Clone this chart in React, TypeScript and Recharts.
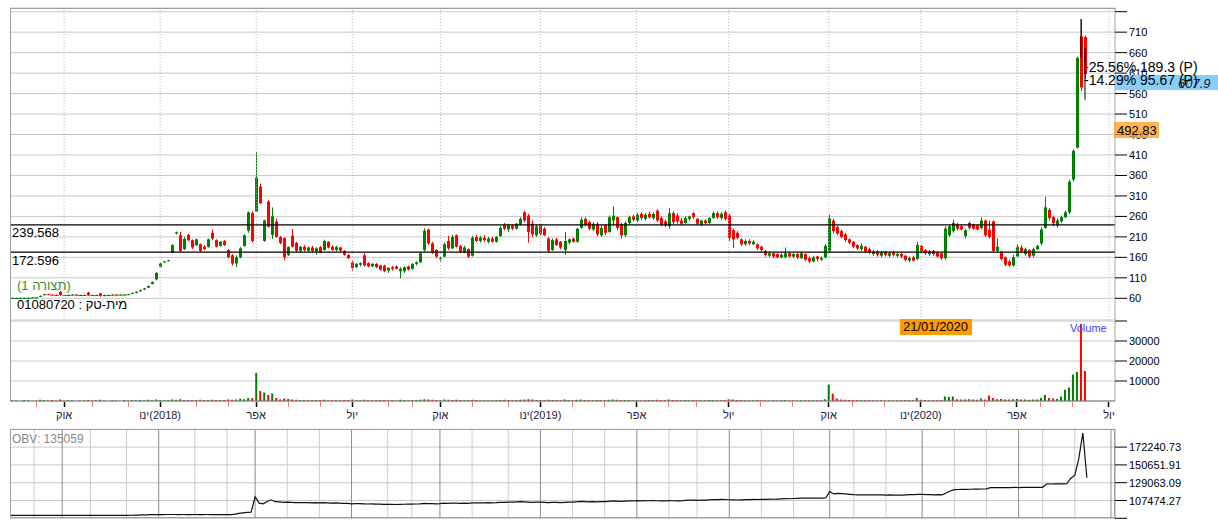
import { ComposedChart, Bar, Line, XAxis, YAxis, CartesianGrid, ReferenceLine, Cell } from 'recharts'

const GREEN = '#008000'
const RED = '#ff0000'
const FONT = "'Liberation Sans', Arial, sans-serif"

// category slots (one every ~4px), data fills the first 269
const SLOTS = 276

const quarterTicks = [13, 37, 61, 85, 107, 132, 156, 179, 204, 227, 251, 274]
const quarterLabels = [
  'אוק', 'ינו\u200E(2018)', 'אפר', 'יול', 'אוק', 'ינו\u200E(2019)',
  'אפר', 'יול', 'אוק', 'ינו\u200E(2020)', 'אפר', 'יול',
]
const monthTicks = [6, 20, 29, 46, 54, 69, 77, 94, 100, 115, 124, 140, 148, 164, 171, 187, 195, 210, 218, 235, 243, 257, 265]

const priceTicks = [60, 110, 160, 210, 260, 310, 360, 410, 460, 510, 560, 610, 660, 710, 760]
const volumeTicks = [10000, 20000, 30000, 40000]
const obvTicks = [85885.45, 107474.27, 129063.09, 150651.91, 172240.73]
const levels = [239.568, 172.596]

// [open, high, low, close]
const ohlc: number[][] = [
  [61,62,60,61],[61,62,60,61],[61,62,60,61],[61,62,60,61],[61,62,60,61],[61,62,60,62],[62,63,61,62],[64,67,63,66],[68,71,67,70],[70,71,68,69],
  [69,70,67,68],[68,69,66,67],[76,78,66,68],[68,69,67,68],[68,69,67,68],[68,70,67,69],[69,70,67,68],[68,69,67,68],[68,69,67,68],[74,76,66,67],
  [67,69,66,68],[68,69,67,68],[72,73,64,66],[66,69,65,68],[68,69,67,68],[68,70,67,69],[69,70,67,68],[68,70,67,69],[69,70,68,69],[69,71,68,70],
  [71,74,70,73],[73,77,72,76],[77,81,76,80],[81,85,80,84],[86,91,85,90],[95,101,94,100],[106,124,104,122],[137,146,136,145],[148,151,147,150],[151,154,150,153],
  [172,192,170,190],[218,223,216,221],[214,222,172,176],[180,210,178,205],[215,217,200,202],[202,204,180,184],[190,206,188,204],[192,194,173,176],[186,190,178,180],[185,206,184,204],
  [220,228,202,206],[202,204,184,186],[188,200,186,198],[200,202,188,190],[178,180,158,160],[165,168,140,145],[145,165,136,160],[160,185,158,182],[188,216,186,214],[225,272,220,270],
  [268,272,196,200],[272,417,270,355],[333,340,290,292],[200,252,198,250],[296,300,233,235],[215,282,205,260],[247,255,208,210],[210,212,192,195],[207,209,153,160],[166,187,163,185],
  [213,229,184,186],[195,198,173,176],[176,188,172,186],[186,190,174,178],[176,186,172,184],[184,188,172,175],[174,185,166,182],[185,188,170,172],[178,203,176,200],[198,200,182,184],
  [186,190,176,178],[178,188,174,185],[184,186,174,176],[176,178,164,166],[166,168,156,158],[148,152,128,134],[136,146,134,144],[142,148,138,146],[165,170,138,140],[146,148,136,138],
  [138,146,136,144],[144,146,134,136],[140,142,128,130],[140,142,124,126],[128,136,122,134],[136,139,128,132],[138,140,130,132],[126,136,109,132],[126,138,122,136],[138,140,128,130],
  [132,146,130,144],[144,150,140,148],[148,172,146,170],[178,231,174,225],[228,230,190,194],[194,198,168,172],[178,180,158,162],[156,162,150,158],[162,196,160,192],[200,212,178,182],
  [182,215,180,210],[214,216,184,186],[188,190,170,174],[172,188,170,184],[180,182,158,162],[164,212,162,208],[210,215,198,200],[200,212,196,208],[208,214,198,202],[198,210,194,206],
  [206,210,196,198],[198,212,196,210],[212,236,210,232],[240,244,226,230],[228,242,222,238],[238,240,226,230],[230,244,228,242],[240,258,238,254],[270,274,246,250],[262,266,196,222],
  [242,250,210,216],[214,240,210,236],[238,242,214,218],[230,234,212,214],[206,210,172,176],[178,206,176,202],[204,208,188,190],[198,200,180,184],[178,222,166,200],[196,206,192,204],
  [206,208,196,198],[198,232,196,230],[232,258,230,252],[254,258,236,240],[246,250,226,230],[228,246,224,242],[242,246,212,216],[214,238,210,232],[238,240,214,220],[222,262,220,258],
  [250,284,238,262],[258,260,226,232],[240,244,206,214],[214,248,210,244],[244,262,240,258],[260,264,248,252],[250,268,246,264],[266,270,252,256],[254,268,250,264],[266,272,254,258],
  [256,270,252,266],[274,278,246,250],[256,260,236,240],[248,252,234,238],[236,280,230,268],[268,272,240,246],[262,268,242,248],[250,256,238,242],[244,260,242,256],[254,262,250,260],
  [268,270,254,258],[254,256,238,242],[240,252,236,250],[250,254,240,244],[244,258,242,256],[256,272,254,268],[268,272,254,258],[256,270,252,266],[270,274,250,254],[262,266,200,208],
  [226,230,183,204],[220,224,204,208],[204,206,188,192],[192,204,188,200],[200,204,190,194],[192,202,190,198],[192,194,178,182],[186,188,174,178],[176,178,162,166],[164,174,160,170],
  [170,172,158,162],[168,170,158,160],[160,170,158,166],[160,184,158,170],[170,172,160,162],[162,170,158,168],[168,170,156,160],[158,174,156,170],[168,170,150,154],[158,162,146,150],
  [150,164,148,160],[162,164,150,156],[154,162,152,158],[160,192,158,188],[176,264,172,255],[250,254,218,224],[234,238,214,218],[224,228,206,210],[216,220,198,202],[204,206,192,196],
  [198,200,182,186],[190,192,178,182],[180,194,176,188],[186,188,170,174],[180,184,168,172],[168,178,164,174],[174,178,162,166],[164,176,160,172],[174,176,162,166],[164,174,160,170],
  [172,176,162,166],[164,172,160,168],[168,172,158,162],[164,166,150,154],[152,162,148,158],[160,164,150,152],[156,198,154,190],[188,190,170,174],[178,180,166,170],[168,178,164,174],
  [176,178,164,168],[172,174,160,162],[170,172,154,158],[158,236,154,230],[214,240,210,236],[224,252,220,244],[240,244,226,230],[236,240,226,228],[212,230,206,226],[244,248,228,232],
  [240,242,228,230],[238,240,226,228],[232,258,228,250],[250,252,210,214],[228,250,206,210],[248,250,172,176],[176,206,172,186],[174,176,152,156],[160,162,138,142],[150,154,136,140],
  [140,166,138,160],[162,192,160,186],[184,190,170,174],[168,184,164,180],[178,180,158,162],[164,184,160,180],[180,190,178,188],[194,234,190,228],[232,308,230,282],[276,280,250,256],
  [258,262,236,244],[238,256,232,250],[248,262,244,258],[258,274,256,270],[270,350,266,345],[350,424,346,420],[428,650,426,647],[700,742,566,575],[698,702,596,608],
]

const volume = [
  400,300,0,500,350,0,250,600,450,300,
  500,300,700,200,400,350,0,300,250,500,
  300,400,600,250,0,350,300,0,450,300,
  400,350,500,300,600,450,800,500,400,350,
  700,600,900,500,450,400,550,600,350,500,
  650,500,400,450,700,600,800,1100,900,1500,
  1500,14000,5000,4300,3000,3700,1500,800,1200,1000,
  700,600,500,450,400,550,500,450,600,400,
  450,400,350,500,450,700,400,350,600,400,
  350,400,450,500,400,350,300,600,450,400,
  500,450,600,900,700,600,500,400,700,600,
  550,600,500,400,450,600,450,400,350,400,
  350,400,550,600,450,400,500,600,800,900,
  700,500,450,400,650,500,450,400,700,500,
  400,600,700,550,450,400,500,450,400,650,
  800,600,500,550,500,400,450,350,400,450,
  400,600,500,450,700,500,450,400,450,400,
  450,400,350,400,450,500,400,350,500,900,
  800,500,450,400,350,400,450,400,350,300,
  350,300,400,450,300,350,300,400,350,400,
  350,400,300,900,8200,3600,1200,800,600,500,
  500,450,400,400,350,400,300,350,300,350,
  300,350,400,450,350,400,1500,600,450,400,
  350,400,450,2300,2000,2300,900,700,800,900,
  700,600,1200,800,2700,1500,900,1000,800,700,
  900,1000,700,800,600,700,800,1500,3000,1500,
  1200,1000,2300,5600,6700,13200,14500,38500,15000,
]

const obv = [
  89460,89420,89420,89480,89450,89450,89470,89500,89520,89490,
  89480,89470,89430,89450,89460,89480,89470,89470,89480,89450,
  89460,89470,89430,89450,89450,89480,89470,89470,89490,89500,
  89600,89700,89850,89950,90100,90250,90350,90420,90450,90480,
  90500,90520,90450,90480,90460,90430,90470,90440,90440,90480,
  90460,90440,90460,90440,90400,90380,91000,91800,92500,93000,
  93200,112000,104300,103500,106300,108300,106000,105700,105300,105500,
  105200,105000,104900,105000,104800,104700,104900,104600,104800,104600,
  104400,104500,104300,104100,103900,103500,103600,103700,103400,103200,
  103300,103100,103000,102800,102900,102700,102600,102800,102900,103000,
  103100,103200,103400,103900,103800,103600,103500,103700,104200,104000,
  104400,104300,104100,104300,104100,104600,104500,104700,104600,104800,
  104700,104900,105300,105200,105500,105400,105700,106000,105800,105500,
  105300,105600,105400,105300,104900,105200,105100,104900,105300,105500,
  105400,105900,106300,106100,105900,106200,105900,106200,106000,106500,
  107000,106700,106400,106800,107100,106900,107300,107100,107400,107200,
  107500,107200,107000,106900,107400,107200,107000,106900,107600,108000,
  107900,107700,108000,107900,108300,108700,108600,108900,108700,108400,
  108200,108100,108300,108600,108500,108800,108700,108900,108800,109100,
  109000,109200,109400,109700,109600,109900,110100,110300,110400,110300,
  110400,110500,110400,110500,118200,115400,116000,115800,115400,115000,
  114500,114400,114300,114400,114300,114200,114300,114200,114100,114200,
  114100,114000,114100,114300,114500,114700,114900,114800,114600,114500,
  114400,114500,114300,116500,119000,120700,120800,120900,121000,121100,
  121200,121300,121400,121500,123100,123000,123100,123200,123100,123200,
  123300,123200,123300,123400,123300,123400,123500,123500,127700,127500,
  127600,127700,127700,127800,134600,137900,158500,189400,135059,
]

const data = Array.from({ length: SLOTS }, (_, i) => {
  const row = ohlc[i]
  if (!row) return { i }
  return { i, o: row[0], h: row[1], l: row[2], c: row[3], vol: volume[i], obv: obv[i] }
})

function Candle(props: any) {
  const { x, y, width, height, payload } = props
  if (!payload || payload.o == null || !Number.isFinite(y)) return <g />
  const { o, h, l, c } = payload
  const top = Math.min(y, y + height)
  const bottom = Math.max(y, y + height)
  const k = h > l ? (bottom - top) / (h - l) : 0
  const cx = Math.floor(x + width / 2) + 0.5
  const color = c >= o ? GREEN : RED
  const bTop = top + (h - Math.max(o, c)) * k
  const bBot = top + (h - Math.min(o, c)) * k
  // quiet, almost flat sessions read as a continuous line in the reference
  const bw = h - l <= 3 ? 4 : 3
  return (
    <g>
      <line x1={cx} x2={cx} y1={top} y2={bottom} stroke={color} strokeWidth={1} />
      <rect x={cx - bw / 2} y={bTop} width={bw} height={Math.max(1, bBot - bTop)} fill={color} />
    </g>
  )
}

function PriceTick(p: any) {
  const v = p.payload.value
  if (v === 760) return <g />
  return (
    <text x={p.x} y={p.y} dy={4} fontSize={11} fill="#000" textAnchor="start">
      {v}
    </text>
  )
}

function VolumeTick(p: any) {
  const v = p.payload.value
  if (v === 40000) return <g />
  return (
    <text x={p.x} y={p.y} dy={4} fontSize={11} fill="#000" textAnchor="start">
      {v}
    </text>
  )
}

function ObvTick(p: any) {
  const v = p.payload.value
  if (v === obvTicks[0]) return <g />
  return (
    <text x={p.x} y={p.y} dy={4} fontSize={11} fill="#000" textAnchor="start">
      {v.toFixed(2)}
    </text>
  )
}

function TimeTick(p: any) {
  const v = p.payload.value
  const qi = quarterTicks.indexOf(v)
  const x = Math.floor(p.x) + 0.5
  const y = Math.round(p.y)
  if (qi < 0) {
    return <line x1={x} x2={x} y1={y + 1} y2={y + 6} stroke="#f08080" strokeWidth={1} />
  }
  return (
    <g>
      <line x1={x} x2={x} y1={y + 1} y2={y + 6} stroke="#000" strokeWidth={1.5} />
      <text x={p.x} y={y + 18} textAnchor="middle" fontSize={11} fill="#1b1b3a">
        {quarterLabels[qi]}
      </text>
    </g>
  )
}

const abs = (left: number, top: number, extra: object = {}) => ({
  position: 'absolute' as const,
  left,
  top,
  ...extra,
})

export default function App() {
  return (
    <div style={{ position: 'absolute', left: 0, top: 0, width: 1218, height: 528, background: '#fff', overflow: 'hidden', fontFamily: FONT }}>
      {/* price panel */}
      <div style={abs(0, 0)}>
        <ComposedChart width={1218} height={321} data={data} margin={{ top: 8, right: 0, bottom: 1, left: 10 }}>
          <CartesianGrid vertical={false} stroke="#c8c8c8" />
          <XAxis dataKey="i" type="category" hide />
          <YAxis
            orientation="right"
            width={103}
            domain={[7, 769]}
            ticks={priceTicks}
            interval={0}
            allowDataOverflow
            tickSize={12}
            tickMargin={2}
            stroke="#a0a0a0"
            tickLine={{ stroke: '#000' }}
            tick={PriceTick}
          />
          {quarterTicks.map((q) => (
            <ReferenceLine key={q} x={q} stroke="#b8b8b8" strokeDasharray="1 2" />
          ))}
          {levels.map((v) => (
            <ReferenceLine key={v} y={v} stroke="#000" strokeWidth={1.3} />
          ))}
          <Bar
            dataKey={(d: any) => (d.o == null ? null : [d.l, d.h])}
            shape={Candle}
            barSize={3}
            isAnimationActive={false}
          />
          <ReferenceLine segment={[{ x: 267, y: 742 }, { x: 267, y: 647 }]} stroke="#000" />
          <ReferenceLine segment={[{ x: 268, y: 671 }, { x: 268, y: 545 }]} stroke="#000" />
        </ComposedChart>
      </div>

      {/* volume panel */}
      <div style={abs(0, 314)}>
        <ComposedChart width={1218} height={115} data={data} margin={{ top: 7, right: 0, bottom: 0, left: 10 }}>
          <CartesianGrid vertical={false} stroke="#c8c8c8" />
          <XAxis
            dataKey="i"
            type="category"
            ticks={[...quarterTicks, ...monthTicks]}
            interval={0}
            height={28}
            tickLine={false}
            tickSize={0}
            tickMargin={0}
            stroke="#777"
            tick={TimeTick}
          />
          <YAxis
            orientation="right"
            width={103}
            domain={[0, 40000]}
            ticks={volumeTicks}
            interval={0}
            allowDataOverflow
            tickSize={12}
            tickMargin={2}
            stroke="#a0a0a0"
            tickLine={{ stroke: '#000' }}
            tick={VolumeTick}
          />
          <Bar dataKey="vol" barSize={2} isAnimationActive={false}>
            {data.map((d: any) => (
              <Cell key={d.i} fill={d.c >= d.o ? GREEN : RED} />
            ))}
          </Bar>
        </ComposedChart>
      </div>

      {/* OBV panel */}
      <div style={abs(0, 420)}>
        <ComposedChart width={1218} height={108} data={data} margin={{ top: 9.3, right: 0, bottom: 9.7, left: 10 }}>
          <CartesianGrid vertical={false} stroke="#c8c8c8" />
          <XAxis dataKey="i" type="category" hide />
          <YAxis
            orientation="right"
            width={103}
            domain={[85885.45, 193829.55]}
            ticks={obvTicks}
            interval={0}
            allowDataOverflow
            tickSize={12}
            tickMargin={2}
            stroke="#a0a0a0"
            tickLine={{ stroke: '#000' }}
            tick={ObvTick}
          />
          {monthTicks.map((m) => (
            <ReferenceLine key={'m' + m} x={m} stroke="#cdcdcd" />
          ))}
          {quarterTicks.map((q) => (
            <ReferenceLine key={'q' + q} x={q} stroke="#8c8c8c" />
          ))}
          <Line dataKey="obv" stroke="#111" strokeWidth={1.2} dot={false} type="linear" isAnimationActive={false} connectNulls={false} />
        </ComposedChart>
      </div>

      {/* panel frames */}
      <div style={abs(10, 8, { width: 1105, height: 312, borderLeft: '1px solid #a0a0a0', borderTop: '1px solid #a0a0a0', pointerEvents: 'none' })} />
      <div style={abs(10, 321, { width: 1105, height: 80, borderLeft: '1px solid #a0a0a0', pointerEvents: 'none' })} />
      <div style={abs(10, 429, { width: 1105, height: 89, border: '1px solid #a0a0a0', boxSizing: 'border-box', pointerEvents: 'none' })} />

      {/* value boxes */}
      <div style={abs(1115, 75, { width: 103, height: 15, background: '#87cefa' })} />
      <div style={abs(1114, 122, { width: 45, height: 16, background: 'rgba(255,160,40,0.78)' })} />
      <div style={abs(900, 319, { width: 72, height: 16, background: '#ff9a00' })} />

      <svg width={1218} height={528} style={abs(0, 0, { pointerEvents: 'none' })}>
        <g fontFamily={FONT}>
          <text x={12} y={237} fontSize={13} fill="#000">239.568</text>
          <text x={12} y={265} fontSize={13} fill="#000">172.596</text>
          <text x={1178} y={88} fontSize={13} fontStyle="italic" fill="#222">607.9</text>
          <text x={1117} y={135} fontSize={13} fill="#000">492.83</text>
          <text x={1084} y={72} fontSize={14} fill="#000">-25.56% 189.3 (P)</text>
          <text x={1084} y={85} fontSize={14} fill="#000">-14.29% 95.67 (P)</text>
          <text x={903} y={331} fontSize={13} fill="#000">21/01/2020</text>
          <text x={1070} y={332} fontSize={11} fill="#4040ff">Volume</text>
          <text x={12} y={443} fontSize={12} fill="#8a8a8a">OBV: 135059</text>
        </g>
      </svg>

      <div dir="rtl" style={abs(17, 278, { fontSize: 13, lineHeight: '16px', color: '#2f8f2f', whiteSpace: 'nowrap' })}>
        (תצורה 1)
      </div>
      <div dir="rtl" style={abs(17, 297, { fontSize: 13, lineHeight: '16px', color: '#000', whiteSpace: 'nowrap' })}>
        מית-טק : 01080720
      </div>
    </div>
  )
}
